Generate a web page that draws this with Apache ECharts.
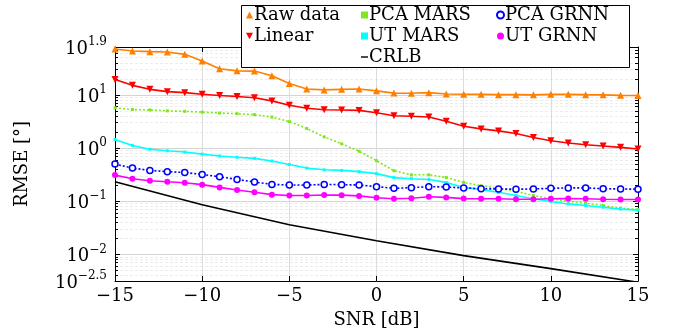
<!DOCTYPE html>
<html>
<head>
<meta charset="utf-8">
<script src="https://cdn.jsdelivr.net/npm/echarts@6/dist/echarts.min.js"></script>
<style>
  html, body { margin: 0; padding: 0; background: #fff; }
  #chart { width: 680px; height: 334px; }
</style>
</head>
<body>
<div id="chart"></div>
<script>
// SNR in dB, one point per dB
var snr = [-15, -14, -13, -12, -11, -10, -9, -8, -7, -6, -5, -4, -3, -2, -1, 0,
  1, 2, 3, 4, 5, 6, 7, 8, 9, 10, 11, 12, 13, 14, 15]

// RMSE values in degrees
var rawData = [72.8, 66.8, 65, 64, 57.8, 43.5, 30.9, 28.3, 28, 22.9, 16.4, 12.9, 12.4, 12.7, 12.9, 11.9,
  10.8, 10.7, 11.0, 10.4, 10.3, 10.3, 10.1, 10.1, 10.0, 10.3, 10.3, 10.1, 10.0, 9.8, 9.7]
var linear = [19.5, 15.1, 12.7, 11.5, 11.0, 10.3, 9.7, 9.3, 8.8, 7.7, 6.4, 5.6, 5.25, 5.2, 5.1, 4.6,
  4.06, 3.95, 3.83, 3.18, 2.57, 2.29, 2.1, 1.88, 1.58, 1.37, 1.24, 1.15, 1.09, 1.03, 0.96]
var pcaMars = [5.7, 5.3, 5.2, 5.0, 4.9, 4.74, 4.55, 4.43, 4.24, 3.83, 3.14, 2.33, 1.62, 1.2, 0.87, 0.58,
  0.375, 0.314, 0.314, 0.28, 0.226, 0.196, 0.175, 0.154, 0.128, 0.111, 0.1, 0.092, 0.083, 0.074, 0.07]
var utMars = [1.45, 1.12, 0.95, 0.89, 0.84, 0.77, 0.71, 0.67, 0.64, 0.57, 0.49, 0.42, 0.39, 0.38, 0.36, 0.33,
  0.278, 0.265, 0.257, 0.226, 0.182, 0.165, 0.147, 0.128, 0.111, 0.099, 0.089, 0.083, 0.077, 0.071, 0.068]
var pcaGrnn = [0.50, 0.42, 0.38, 0.36, 0.347, 0.318, 0.288, 0.257, 0.23, 0.207, 0.202, 0.202, 0.207, 0.205, 0.202, 0.188,
  0.175, 0.18, 0.188, 0.185, 0.178, 0.172, 0.17, 0.168, 0.17, 0.175, 0.178, 0.178, 0.172, 0.17, 0.168]
var utGrnn = [0.31, 0.265, 0.243, 0.232, 0.223, 0.205, 0.182, 0.163, 0.147, 0.133, 0.128, 0.128, 0.131, 0.13, 0.126, 0.116,
  0.111, 0.114, 0.121, 0.118, 0.112, 0.111, 0.111, 0.109, 0.109, 0.111, 0.112, 0.111, 0.109, 0.108, 0.108]

var crlbSnr = [-15, -10, -5, 0, 5, 10, 15]
var crlb = [0.233, 0.0857, 0.036, 0.018, 0.0095, 0.0054, 0.003]

// axis limits / ticks, in log10 units
var yMin = -2.5
var yMax = 1.9
var yLabels = [-2.5, -2, -1, 0, 1, 1.9]
var yMajor = [-2, -1, 0, 1]

var FONT = 'DejaVu Serif'

function toPairs (xs, ys) {
  return xs.map(function (x, i) { return [x, Math.log10(ys[i])] })
}

var yMinor = []
for (var p = -3; p <= 1; p++) {
  for (var k = 2; k <= 9; k++) {
    var v = p + Math.log10(k)
    if (v > yMin && v < yMax) yMinor.push(v)
  }
}

function minusFmt (v) {
  return v < 0 ? '\u2212' + Math.abs(v) : '' + v
}

var chart = echarts.init(document.getElementById('chart'))

function mkSeries (name, xs, ys, color, opts) {
  return {
    type: 'line',
    name: name,
    data: toPairs(xs, ys),
    color: color,
    lineStyle: { width: 1.6, color: color, type: opts.dash || 'solid' },
    symbol: opts.symbol || 'none',
    symbolSize: opts.size || 6,
    symbolRotate: opts.rotate || 0,
    showSymbol: !!opts.symbol,
    itemStyle: { color: opts.fill || color, borderColor: color, borderWidth: opts.border || 0 },
    z: opts.z || 2
  }
}

var dashIcon = 'path://M0,0 L10,0 L10,2 L0,2 Z'

function mkLegend (items, left) {
  return {
    orient: 'vertical',
    left: left,
    top: 6,
    itemWidth: 7,
    itemHeight: 7,
    itemGap: 3,
    padding: 0,
    textStyle: { fontFamily: FONT, fontSize: 18, color: '#000', padding: [0, 0, 0, -4] },
    data: items,
    z: 20,
    selectedMode: false
  }
}

chart.setOption({
  animation: false,
  backgroundColor: '#fff',
  grid: { left: 115, right: 42, top: 47, bottom: 47 },
  legend: [
    mkLegend([{ name: 'Raw data', icon: 'triangle' }, { name: 'Linear', icon: 'path://M0,0 L10,0 L5,9 Z' }], 246),
    mkLegend([{ name: 'PCA MARS', icon: 'rect' }, { name: 'UT MARS', icon: 'rect' }, { name: 'CRLB', icon: dashIcon }], 361),
    mkLegend([{ name: 'PCA GRNN', icon: 'circle' }, { name: 'UT GRNN', icon: 'circle' }], 496)
  ],
  graphic: [{
    type: 'rect',
    shape: { x: 241.5, y: 5.5, width: 388, height: 62 },
    style: { fill: '#fff', stroke: '#000', lineWidth: 1 },
    z: 10
  }],
  xAxis: [{
    type: 'value',
    min: -15,
    max: 15,
    interval: 5,
    position: 'bottom',
    name: 'SNR [dB]',
    nameLocation: 'middle',
    nameGap: 30,
    nameTextStyle: { fontFamily: FONT, fontSize: 18, color: '#000' },
    axisLine: { onZero: false, lineStyle: { color: '#000', width: 1 } },
    axisTick: { inside: true, length: 5, lineStyle: { color: '#000' } },
    axisLabel: { fontFamily: FONT, fontSize: 18, color: '#000', margin: 6, formatter: minusFmt },
    splitLine: { show: true, lineStyle: { color: '#dcdcdc', width: 1 } }
  }, {
    type: 'value',
    min: -15,
    max: 15,
    interval: 5,
    position: 'top',
    axisLine: { onZero: false, lineStyle: { color: '#000', width: 1 } },
    axisTick: { inside: true, length: 5, lineStyle: { color: '#000' } },
    axisLabel: { show: false },
    splitLine: { show: false }
  }],
  yAxis: [{
    type: 'value',
    min: yMin,
    max: yMax,
    position: 'left',
    name: 'RMSE [\u00b0]',
    nameLocation: 'middle',
    nameGap: 84,
    nameTextStyle: { fontFamily: FONT, fontSize: 18, color: '#000' },
    axisLine: { show: true, onZero: false, lineStyle: { color: '#000', width: 1 } },
    axisTick: { show: true, inside: true, length: 5, customValues: yMajor, lineStyle: { color: '#000' } },
    axisLabel: {
      customValues: yLabels,
      margin: 8,
      formatter: function (v) {
        var e = Math.round(v * 10) / 10
        return '{b|10}{s|' + minusFmt(e) + '}'
      },
      rich: {
        b: { fontFamily: FONT, fontSize: 18, color: '#000', verticalAlign: 'bottom', lineHeight: 22 },
        s: { fontFamily: FONT, fontSize: 12, color: '#000', verticalAlign: 'bottom', lineHeight: 22, padding: [0, 0, 10, 0] }
      }
    },
    splitLine: { show: true, lineStyle: { color: '#d4d4d4', width: 1 } }
  }, {
    type: 'value',
    min: yMin,
    max: yMax,
    position: 'left',
    axisLine: { show: false, onZero: false },
    axisTick: { show: true, inside: true, length: 3, customValues: yMinor, lineStyle: { color: '#000' } },
    axisLabel: { show: false },
    splitLine: { show: true, lineStyle: { color: '#ececec', width: 1, type: [3, 2] } }
  }, {
    type: 'value',
    min: yMin,
    max: yMax,
    position: 'right',
    axisLine: { show: true, onZero: false, lineStyle: { color: '#000', width: 1 } },
    axisTick: { show: true, inside: true, length: 5, customValues: yMajor, lineStyle: { color: '#000' } },
    axisLabel: { show: false },
    splitLine: { show: false }
  }, {
    type: 'value',
    min: yMin,
    max: yMax,
    position: 'right',
    axisLine: { show: false, onZero: false },
    axisTick: { show: true, inside: true, length: 3, customValues: yMinor, lineStyle: { color: '#000' } },
    axisLabel: { show: false },
    splitLine: { show: false }
  }],
  series: [
    mkSeries('Raw data', snr, rawData, '#ff8000', { symbol: 'triangle', size: 7 }),
    mkSeries('Linear', snr, linear, '#ff0000', { symbol: 'triangle', size: 7, rotate: 180 }),
    mkSeries('PCA MARS', snr, pcaMars, '#80e81a', { symbol: 'rect', size: 3, dash: [2, 2] }),
    mkSeries('UT MARS', snr, utMars, '#00ffff', { symbol: 'rect', size: 3 }),
    mkSeries('CRLB', crlbSnr, crlb, '#000000', {}),
    mkSeries('PCA GRNN', snr, pcaGrnn, '#0000ff', { symbol: 'circle', size: 6, dash: [2, 2], fill: '#fff', border: 1.5 }),
    mkSeries('UT GRNN', snr, utGrnn, '#ff00ff', { symbol: 'circle', size: 6 })
  ]
})
</script>
</body>
</html>
